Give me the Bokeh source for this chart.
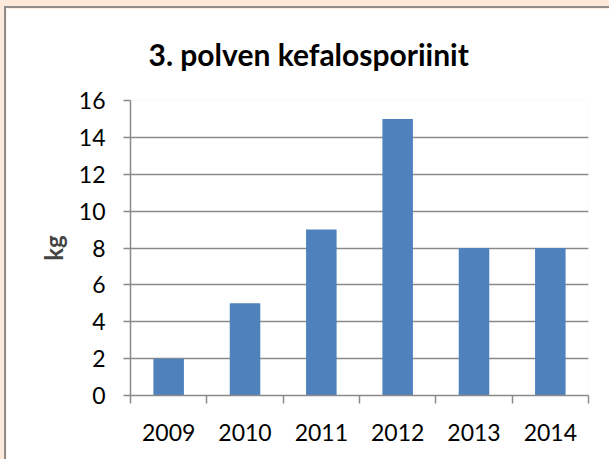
from bokeh.plotting import figure
from bokeh.models import FixedTicker
from bokeh.embed import file_html
from bokeh.resources import INLINE

# ---- data ----
years = ["2009", "2010", "2011", "2012", "2013", "2014"]
kg = [2, 5, 9, 15, 8, 8]
y_ticks = [0, 2, 4, 6, 8, 10, 12, 14, 16]
title_text = "3. polven kefalosporiinit"
y_label = "kg"

GRAY = "#8a8a8a"
BAR = "#4f81bd"
FONT = "Lato"

n = len(years)
centers = [i + 0.5 for i in range(n)]

p = figure(width=603, height=451, x_range=(0, n), y_range=(0, 16),
           output_backend="svg", toolbar_location=None,
           min_border_left=124, min_border_right=21,
           min_border_top=92, min_border_bottom=64)
p.outline_line_color = None
p.background_fill_color = "white"
p.border_fill_color = "white"
p.styles = {"outline": "2px solid #8e8e8e"}

p.title.text = title_text
p.title.align = "left"
p.title.offset = 18
p.title.text_font = FONT
p.title.text_font_style = "bold"
p.title.text_font_size = "30px"
p.title.text_color = "black"
p.title.vertical_align = "top"
p.title.standoff = 54

p.vbar(x=centers, top=kg, width=0.4, bottom=0, fill_color=BAR, line_color=None)

# x axis: labels at centers, ticks at category boundaries
p.xaxis.ticker = FixedTicker(ticks=centers, minor_ticks=list(range(n + 1)))
p.xaxis.major_label_overrides = {c: y for c, y in zip(centers, years)}
p.xaxis.major_tick_out = 0
p.xaxis.major_tick_in = 0
p.xaxis.minor_tick_out = 8
p.xaxis.minor_tick_in = 0
p.xaxis.minor_tick_line_color = GRAY
p.xaxis.minor_tick_line_width = 1.5
p.xaxis.major_label_standoff = 20
p.xgrid.grid_line_color = None

# y axis
p.yaxis.ticker = FixedTicker(ticks=y_ticks, minor_ticks=[])
p.yaxis.major_tick_out = 7
p.yaxis.major_tick_in = 0
p.yaxis.major_tick_line_color = GRAY
p.yaxis.major_tick_line_width = 1.5
p.yaxis.major_label_standoff = 18
p.yaxis.axis_label = y_label
p.yaxis.axis_label_text_font = FONT
p.yaxis.axis_label_text_font_style = "bold"
p.yaxis.axis_label_text_font_size = "24px"
p.yaxis.axis_label_standoff = 8
p.ygrid.grid_line_color = GRAY
p.ygrid.grid_line_width = 1.5

for ax in (p.xaxis, p.yaxis):
    ax.axis_line_color = GRAY
    ax.axis_line_width = 1.5
    ax.major_label_text_font = FONT
    ax.major_label_text_font_size = "23px"
    ax.major_label_text_color = "black"

html = file_html(p, INLINE)
page_css = ("<style>html, body { background: #fdeada !important; margin: 0 !important; "
            "padding: 0 !important; } body { padding: 8px 0 0 6px !important; }</style>")
html = html.replace("</head>", page_css + "</head>", 1)
open("out.html", "w").write(html)
